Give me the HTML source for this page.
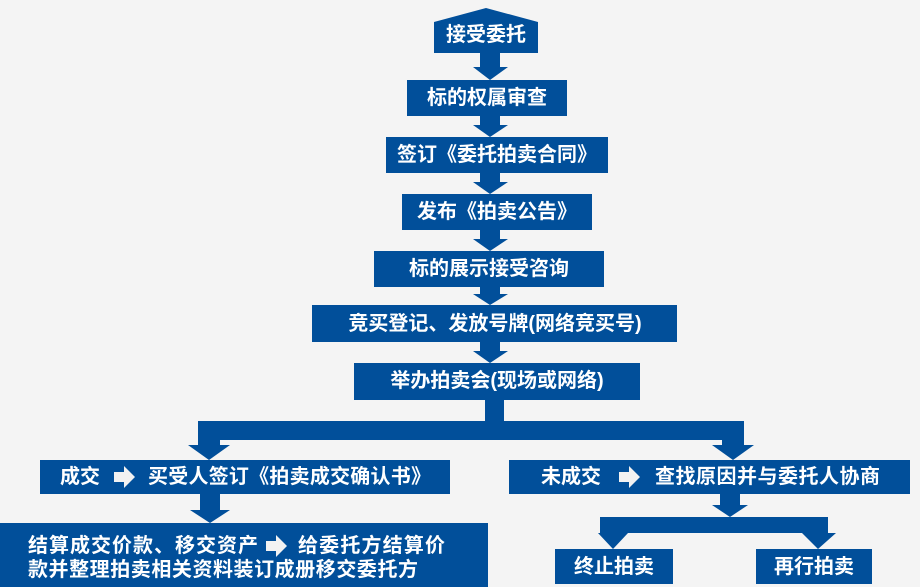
<!DOCTYPE html>
<html><head><meta charset="utf-8"><style>
html,body{margin:0;padding:0;background:#f4f4f4;}
svg{display:block}
text{font-family:"Liberation Sans","Noto Sans CJK SC",sans-serif;fill:#fff;font-weight:bold;font-size:20px;text-anchor:middle;dominant-baseline:central}
text.s{text-anchor:start}
</style></head><body>
<svg width="920" height="587" viewBox="0 0 920 587" xmlns="http://www.w3.org/2000/svg">
<g fill="#014f9a">
<polygon points="434,22 486,8 538,22 538,53 434,53"/>
<polygon points="480,53 500,53 500,67 508,67 490,80 473,67 480,67"/>
<polygon points="480,116 500,116 500,125 508,125 490,137 473,125 480,125"/>
<polygon points="480,173 500,173 500,182 508,182 490,194 473,182 480,182"/>
<polygon points="480,230 500,230 500,239 508,239 490,251 473,239 480,239"/>
<polygon points="480,287 500,287 500,294 508,294 490,305 473,294 480,294"/>
<polygon points="480,342 500,342 500,351 508,351 490,363 473,351 480,351"/>
<rect x="407" y="80" width="160" height="36"/>
<rect x="386" y="137" width="222" height="36"/>
<rect x="402" y="194" width="190" height="36"/>
<rect x="374" y="251" width="230" height="36"/>
<rect x="312" y="305" width="365" height="37"/>
<rect x="354" y="363" width="286" height="37"/>
<rect x="485" y="400" width="19" height="22"/>
<rect x="198" y="421" width="546" height="19"/>
<polygon points="198,440 220,440 220,445 230,445 209,460 188,445 198,445"/>
<polygon points="722,440 744,440 744,445 754,445 733,460 712,445 722,445"/>
<rect x="40" y="460" width="410" height="34"/>
<rect x="509" y="460" width="401" height="34"/>
<polygon points="200,494 220,494 220,510 230,510 210,523 190,510 200,510"/>
<rect x="0" y="523" width="488" height="64"/>
<polygon points="720,494 740,494 740,505 748,505 730,517 712,505 720,505"/>
<rect x="600" y="517" width="228" height="16"/>
<polygon points="600,533 628,533 613,549 598,533"/>
<polygon points="805,533 836,533 818,549 802,533"/>
<rect x="555" y="549" width="118" height="35"/>
<rect x="756" y="549" width="116" height="35"/>
</g>
<text x="486" y="35">接受委托</text>
<text x="487" y="98">标的权属审查</text>
<text x="497" y="155">签订《委托拍卖合同》</text>
<text x="497" y="212">发布《拍卖公告》</text>
<text x="489" y="269">标的展示接受咨询</text>
<text x="495" y="324">竞买登记、发放号牌(网络竞买号)</text>
<text x="497" y="381">举办拍卖会(现场或网络)</text>
<text class="s" x="60" y="477">成交</text>
<text class="s" x="148" y="477" textLength="283">买受人签订《拍卖成交确认书》</text>
<text class="s" x="541" y="477">未成交</text>
<text class="s" x="655" y="477" textLength="225">查找原因并与委托人协商</text>
<text x="614" y="567">终止拍卖</text>
<text x="814" y="567">再行拍卖</text>
<text class="s" x="28" y="546" textLength="230">结算成交价款、移交资产</text>
<text class="s" x="298" y="546" textLength="147">给委托方结算价</text>
<text class="s" x="28" y="570" textLength="390">款并整理拍卖相关资料装订成册移交委托方</text>
<g fill="#f2f2f2">
<polygon points="114,472 124,472 124,466 135,477 124,488 124,482 114,482"/>
<polygon points="619,472 629,472 629,466 640,477 629,488 629,482 619,482"/>
<polygon points="266,541 276,541 276,535 287,546 276,557 276,551 266,551"/>
</g>
</svg>
</body></html>
